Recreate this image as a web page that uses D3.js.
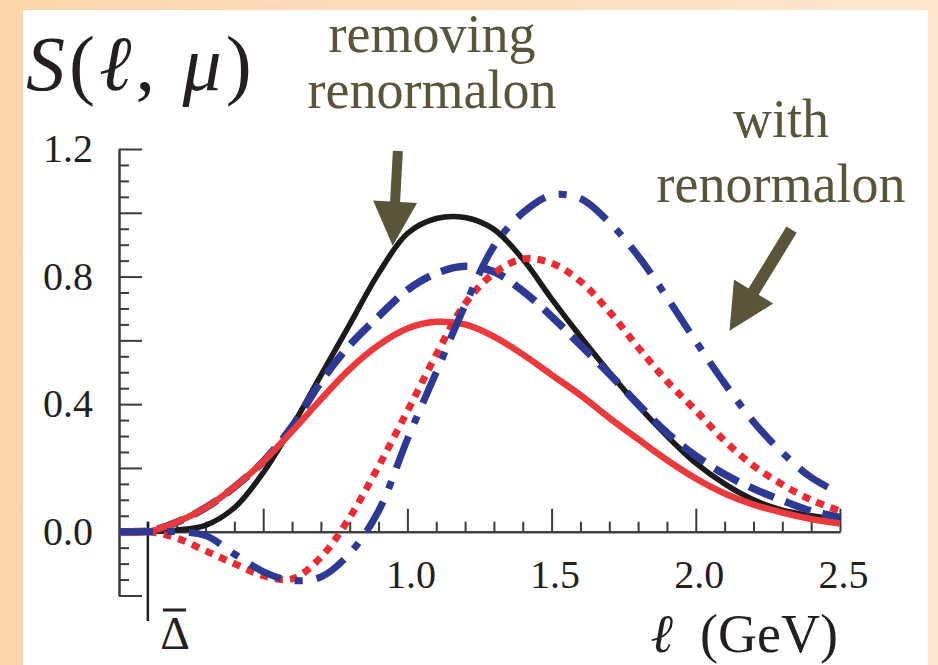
<!DOCTYPE html>
<html>
<head>
<meta charset="utf-8">
<script src="https://cdn.jsdelivr.net/npm/d3@7"></script>
<style>
  html, body { margin: 0; padding: 0; background: #fff; }
  svg { display: block; }
</style>
</head>
<body>
<svg id="chart" width="938" height="665"></svg>
<script>
// Soft-function shape S(ℓ, μ) versus ℓ (GeV), five model curves.
const ell = [0, 0.1, 0.2, 0.3, 0.4, 0.5, 0.6, 0.7, 0.8, 0.9, 1.0, 1.1, 1.2,
             1.3, 1.4, 1.5, 1.6, 1.7, 1.8, 1.9, 2.0, 2.1, 2.2, 2.3, 2.4, 2.5];

// renormalon removed
const blackSolid = [0, 0, 0.005, 0.02, 0.075, 0.185, 0.33, 0.49, 0.65, 0.81, 0.935, 0.982, 0.985,
                    0.948, 0.855, 0.73, 0.612, 0.50, 0.395, 0.30, 0.215, 0.15, 0.10, 0.068, 0.05, 0.037];
const redSolid = [0, 0, 0.03, 0.075, 0.14, 0.22, 0.315, 0.415, 0.51, 0.585, 0.637, 0.658, 0.65,
                  0.612, 0.556, 0.492, 0.428, 0.357, 0.29, 0.225, 0.167, 0.12, 0.085, 0.06, 0.04, 0.026];
const blueDashed = [0, 0.002, 0.03, 0.075, 0.14, 0.22, 0.33, 0.47, 0.585, 0.675, 0.758, 0.81, 0.832,
                    0.815, 0.755, 0.675, 0.585, 0.495, 0.40, 0.31, 0.238, 0.18, 0.135, 0.098, 0.065, 0.045];
// with renormalon
const redDotted = [0, 0, -0.02, -0.06, -0.10, -0.138, -0.148, -0.08, 0.045, 0.205, 0.378, 0.555, 0.715,
                   0.81, 0.855, 0.842, 0.785, 0.69, 0.578, 0.472, 0.38, 0.285, 0.207, 0.148, 0.10, 0.065];
const blueDashDot = [0, 0, 0, -0.012, -0.07, -0.125, -0.153, -0.142, -0.068, 0.065, 0.29, 0.50, 0.71,
                     0.895, 1.0, 1.055, 1.045, 0.97, 0.865, 0.735, 0.597, 0.465, 0.345, 0.248, 0.17, 0.12];

const xMajorTicks = [0.5, 1.0, 1.5, 2.0, 2.5];
const xMinorTicks = [0.1, 0.2, 0.3, 0.4, 0.6, 0.7, 0.8, 0.9, 1.1, 1.2, 1.3, 1.4,
                     1.6, 1.7, 1.8, 1.9, 2.1, 2.2, 2.3, 2.4];
const xTickLabels = ["1.0", "1.5", "2.0", "2.5"];
const yMajorTicks = [-0.2, 0.0, 0.2, 0.4, 0.6, 0.8, 1.0, 1.2];
const yMinorTicks = [-0.15, -0.1, -0.05, 0.05, 0.1, 0.15, 0.25, 0.3, 0.35, 0.45, 0.5, 0.55,
                     0.65, 0.7, 0.75, 0.85, 0.9, 0.95, 1.05, 1.1, 1.15];
const yTickLabels = ["0.0", "0.4", "0.8", "1.2"];
const deltaBar = 0.1;

const W = 938, H = 665;
const svg = d3.select("#chart");
const serif = "'Liberation Serif', 'Times New Roman', 'DejaVu Serif', serif";
const olive = "#58553a";
const ink = "#231f20";

// page frame
const defs = svg.append("defs");
const grad = defs.append("linearGradient").attr("id", "frame")
  .attr("x1", "0").attr("y1", "0").attr("x2", "1").attr("y2", "0");
grad.append("stop").attr("offset", "0").attr("stop-color", "#fdd5ab");
grad.append("stop").attr("offset", "1").attr("stop-color", "#fee6cf");
svg.append("rect").attr("width", W).attr("height", H).attr("fill", "url(#frame)");
svg.append("rect").attr("x", 23).attr("y", 10).attr("width", 905).attr("height", H - 10)
  .attr("fill", "#ffffff");

const x = d3.scaleLinear().domain([0, 2.5]).range([119, 840]);
const y = d3.scaleLinear().domain([-0.2, 1.2]).range([595.5, 149]);

// axes
const axisColor = "#3b3b3b";
function styleAxis(g) {
  g.select(".domain").attr("stroke", axisColor).attr("stroke-width", 2);
  g.selectAll(".tick line").attr("stroke", axisColor).attr("stroke-width", 2);
}
svg.append("g").attr("transform", `translate(${x(0)},0)`)
  .call(d3.axisLeft(y).tickValues(yMinorTicks).tickSizeInner(-10).tickSizeOuter(0).tickFormat(""))
  .call(styleAxis);
const yMajor = svg.append("g").attr("transform", `translate(${x(0)},0)`)
  .call(d3.axisLeft(y).tickValues(yMajorTicks).tickSizeInner(-23).tickSizeOuter(0).tickPadding(26)
    .tickFormat(d => { const s = d3.format(".1f")(d); return yTickLabels.includes(s) ? s : ""; }))
  .call(styleAxis);
yMajor.selectAll(".tick text").attr("font-family", serif).attr("font-size", 40).attr("fill", ink);

svg.append("g").attr("transform", `translate(0,${y(0)})`)
  .call(d3.axisBottom(x).tickValues(xMinorTicks).tickSizeInner(-10).tickSizeOuter(0).tickFormat(""))
  .call(styleAxis);
const xMajor = svg.append("g").attr("transform", `translate(0,${y(0)})`)
  .call(d3.axisBottom(x).tickValues(xMajorTicks).tickSizeInner(-23).tickSizeOuter(0)
    .tickFormat(d => { const s = d3.format(".1f")(d); return xTickLabels.includes(s) ? s : ""; }))
  .call(styleAxis);
xMajor.selectAll(".tick text").attr("font-family", serif).attr("font-size", 40).attr("fill", ink)
  .attr("y", 56).attr("dy", 0).attr("dx", 3);

// Δ̄ marker
svg.append("line").attr("x1", x(deltaBar)).attr("x2", x(deltaBar))
  .attr("y1", y(0) - 10).attr("y2", y(-0.28))
  .attr("stroke", ink).attr("stroke-width", 2.5);
svg.append("text").attr("x", 175).attr("y", 649).attr("text-anchor", "middle")
  .attr("font-family", serif).attr("font-size", 46).attr("fill", ink).text("Δ");
svg.append("line").attr("x1", 163).attr("x2", 186).attr("y1", 610).attr("y2", 610)
  .attr("stroke", ink).attr("stroke-width", 3);

// curves
const rows = ell.map((l, i) => ({ l, blackSolid: blackSolid[i], redSolid: redSolid[i],
  blueDashed: blueDashed[i], redDotted: redDotted[i], blueDashDot: blueDashDot[i] }));
const series = [
  { key: "blackSolid", color: "#1c1a1b", width: 5.5, dash: null },
  { key: "blueDashed", color: "#2e3994", width: 7.5, dash: "27,12" },
  { key: "redSolid", color: "#eb3a3c", width: 6.5, dash: null },
  { key: "redDotted", color: "#ec2a32", width: 7, dash: "8,7" },
  { key: "blueDashDot", color: "#2e3994", width: 7, dash: "34,14,8,14" }
];
series.forEach(s => {
  const line = d3.line().x(d => x(d.l)).y(d => y(d[s.key])).curve(d3.curveCatmullRom.alpha(0.5));
  svg.append("path").datum(rows).attr("d", line)
    .attr("fill", "none").attr("stroke", s.color).attr("stroke-width", s.width)
    .attr("stroke-dasharray", s.dash).attr("stroke-linejoin", "round");
});

// annotations
function arrow(l0, s0, l1, s1, shaft, headLen, headHalf) {
  const x0 = x(l0), y0 = y(s0), x1 = x(l1), y1 = y(s1);
  const dx = x1 - x0, dy = y1 - y0, len = Math.hypot(dx, dy);
  const ux = dx / len, uy = dy / len, nx = -uy, ny = ux;
  const bx = x1 - ux * headLen, by = y1 - uy * headLen;
  const pts = [
    [x0 + nx * shaft / 2, y0 + ny * shaft / 2],
    [bx + nx * shaft / 2, by + ny * shaft / 2],
    [bx + nx * headHalf, by + ny * headHalf],
    [x1, y1],
    [bx - nx * headHalf, by - ny * headHalf],
    [bx - nx * shaft / 2, by - ny * shaft / 2],
    [x0 - nx * shaft / 2, y0 - ny * shaft / 2]
  ];
  svg.append("polygon").attr("points", pts.map(p => p.join(",")).join(" ")).attr("fill", olive);
}
arrow(0.967, 1.194, 0.949, 0.897, 10, 44, 22);
arrow(2.332, 0.947, 2.117, 0.63, 12, 46, 23);

function note(lines, cx, baselines) {
  lines.forEach((t, i) => svg.append("text").attr("x", cx).attr("y", baselines[i])
    .attr("text-anchor", "middle").attr("font-family", serif).attr("font-size", 54)
    .attr("fill", olive).text(t));
}
note(["removing", "renormalon"], 432, [52, 108]);
note(["with", "renormalon"], 781, [137, 202]);

// axis titles
const title = svg.append("text").attr("x", 26).attr("y", 90).attr("font-family", serif)
  .attr("font-size", 78).attr("letter-spacing", 4).attr("fill", ink);
title.append("tspan").attr("font-style", "italic").text("S");
title.append("tspan").text("(");
title.append("tspan").attr("font-style", "italic").text("ℓ");
title.append("tspan").text(", ");
title.append("tspan").attr("font-style", "italic").text("μ");
title.append("tspan").text(")");

const xt = svg.append("text").attr("x", 838).attr("y", 652).attr("text-anchor", "end")
  .attr("font-family", serif).attr("font-size", 54).attr("fill", ink)
  .attr("xml:space", "preserve");
xt.append("tspan").attr("font-style", "italic").text("ℓ");
xt.append("tspan").text("  (GeV)");
</script>
</body>
</html>
